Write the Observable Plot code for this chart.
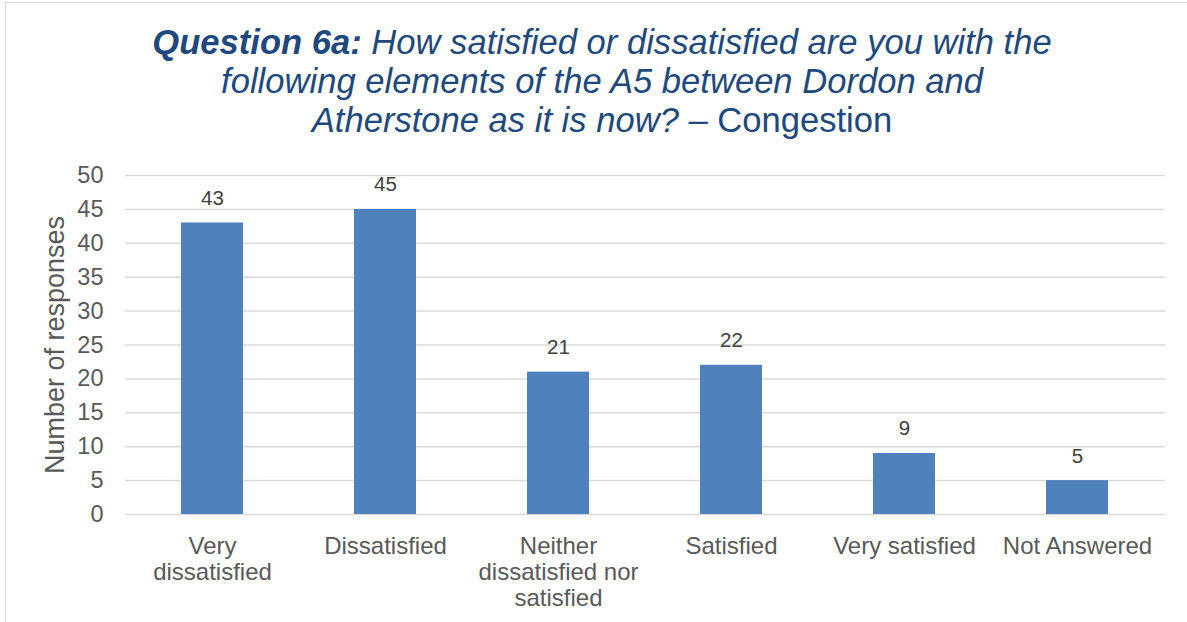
<!DOCTYPE html>
<html>
<head>
<meta charset="utf-8">
<script src="https://cdn.jsdelivr.net/npm/d3@7"></script>
<script src="https://cdn.jsdelivr.net/npm/@observablehq/plot@0.6"></script>
<style>
  html, body { margin: 0; padding: 0; background: #fff; }
  body { width: 1187px; height: 622px; overflow: hidden; position: relative; font-family: "Liberation Sans", Arial, sans-serif; }
  #frame { position: absolute; left: 5px; top: 2px; width: 1300px; height: 700px; border-left: 1.5px solid #d9d9d9; border-top: 1.5px solid #d9d9d9; box-sizing: border-box; }
  .tl { position: absolute; left: 0; width: 1204px; text-align: center; font-size: 34.6px; color: #1F497D; font-style: italic; white-space: nowrap; line-height: 1; }
  #chart { position: absolute; left: 0; top: 0; }
</style>
</head>
<body>
<div id="frame"></div>
<div id="chart"></div>
<div class="tl" style="top:25px;"><b>Question 6a:</b> How satisfied or dissatisfied are you with the</div>
<div class="tl" style="top:64px;">following elements of the A5 between Dordon and</div>
<div class="tl" style="top:103px;">Atherstone as it is now? <span style="font-style:normal">– Congestion</span></div>
<script>
const categories = ["Very dissatisfied", "Dissatisfied", "Neither dissatisfied nor satisfied", "Satisfied", "Very satisfied", "Not Answered"];
const tickLabels = ["Very\ndissatisfied", "Dissatisfied", "Neither\ndissatisfied nor\nsatisfied", "Satisfied", "Very satisfied", "Not Answered"];
const responses = [43, 45, 21, 22, 9, 5];
const yTicks = [0, 5, 10, 15, 20, 25, 30, 35, 40, 45, 50];
const yLabel = "Number of responses";

const data = categories.map((c, i) => ({category: c, value: responses[i]}));
const labelOf = new Map(categories.map((c, i) => [c, tickLabels[i]]));

const chart = Plot.plot({
  width: 1187,
  height: 622,
  marginTop: 175,
  marginBottom: 108,
  marginLeft: 125,
  marginRight: 22,
  style: {fontFamily: "'Liberation Sans', Arial, sans-serif", background: "transparent"},
  x: {domain: categories, paddingInner: 0.64, paddingOuter: 0.32},
  y: {domain: [0, 50]},
  marks: [
    Plot.ruleY(yTicks, {stroke: "#d9d9d9", strokeWidth: 1.5}),
    Plot.barY(data, {x: "category", y: "value", fill: "#4F81BD"}),
    Plot.text(data, {x: "category", y: "value", text: d => String(d.value), lineAnchor: "bottom", dy: -18, fontSize: 20.5, fill: "#404040"}),
    Plot.axisY({ticks: yTicks, tickSize: 0, tickPadding: 22, fontSize: 23.5, color: "#595959", label: null}),
    Plot.text([yLabel], {frameAnchor: "left", dx: -70, rotate: -90, fontSize: 27, fill: "#595959", textAnchor: "middle", lineAnchor: "middle"}),
    Plot.axisX({tickSize: 0, tickPadding: 21, fontSize: 24, color: "#595959", lineHeight: 1.08, tickFormat: d => labelOf.get(d), label: null})
  ]
});
document.getElementById("chart").appendChild(chart);
</script>
</body>
</html>
